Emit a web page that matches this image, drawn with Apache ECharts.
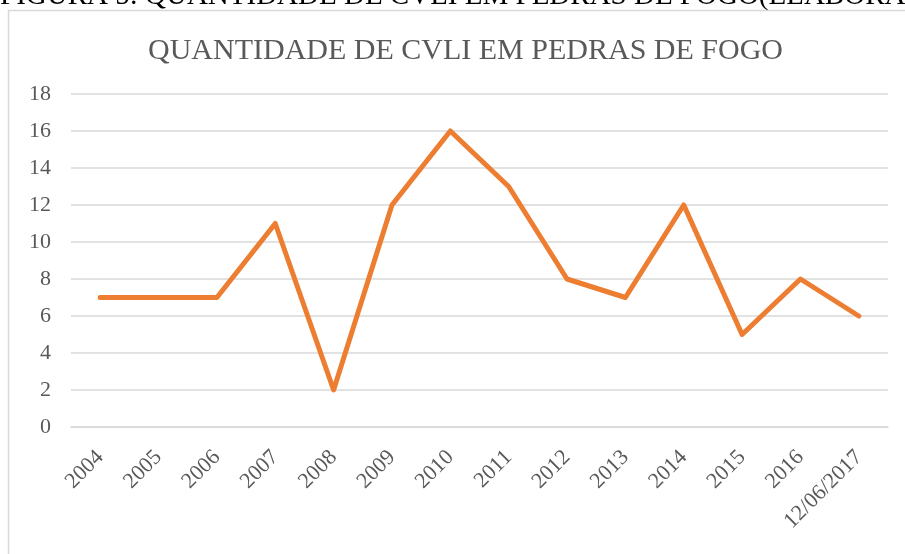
<!DOCTYPE html>
<html><head><meta charset="utf-8">
<script src="https://cdn.jsdelivr.net/npm/echarts@6/dist/echarts.min.js"></script>
<style>html,body{margin:0;padding:0;background:#fff;}#c{width:905px;height:554px;}</style>
</head><body><div id="c"></div>
<script>
const categories = ['2004','2005','2006','2007','2008','2009','2010','2011','2012','2013','2014','2015','2016','12/06/2017'];
const values = [7,7,7,11,2,12,16,13,8,7,12,5,8,6];
const yTicks = {min:0, max:18, interval:2};
const chart = echarts.init(document.getElementById('c'), null, {renderer:'canvas'});
chart.setOption({
  backgroundColor:'#fff',
  animation:false,
  graphic:[
    {type:'rect', shape:{x:8.5,y:10.5,width:1000,height:1000}, style:{fill:'none',stroke:'#d9d9d9',lineWidth:1.5}, z:-1},
    {type:'text', left:0, top:-18, style:{text:'FIGURA 5: QUANTIDADE DE CVLI EM PEDRAS DE FOGO(ELABORAÇÃO PRÓPRIA)', font:'29px "Liberation Serif"', fill:'#000'}}
  ],
  title:{text:'QUANTIDADE DE CVLI EM PEDRAS DE FOGO', left:143, top:31,
    textStyle:{fontFamily:'Liberation Serif', fontSize:30, fontWeight:'normal', color:'#595959'}},
  grid:{left:71, right:17, top:94, bottom:127, containLabel:false},
  xAxis:{type:'category', data:categories, boundaryGap:true,
    axisLine:{show:true, lineStyle:{color:'#d9d9d9', width:1.5}}, axisTick:{show:false},
    axisLabel:{rotate:45, interval:0, margin:27, fontFamily:'Liberation Serif', fontSize:22, color:'#595959'}},
  yAxis:{type:'value', min:yTicks.min, max:yTicks.max, interval:yTicks.interval,
    axisLine:{show:false}, axisTick:{show:false},
    splitLine:{lineStyle:{color:'#d9d9d9', width:1.5}},
    axisLabel:{margin:20, fontFamily:'Liberation Serif', fontSize:22, color:'#595959'}},
  series:[{type:'line', data:values, showSymbol:false, symbol:'none',
    lineStyle:{color:'#ED7D31', width:5, cap:'round', join:'round'}}]
});
</script></body></html>
